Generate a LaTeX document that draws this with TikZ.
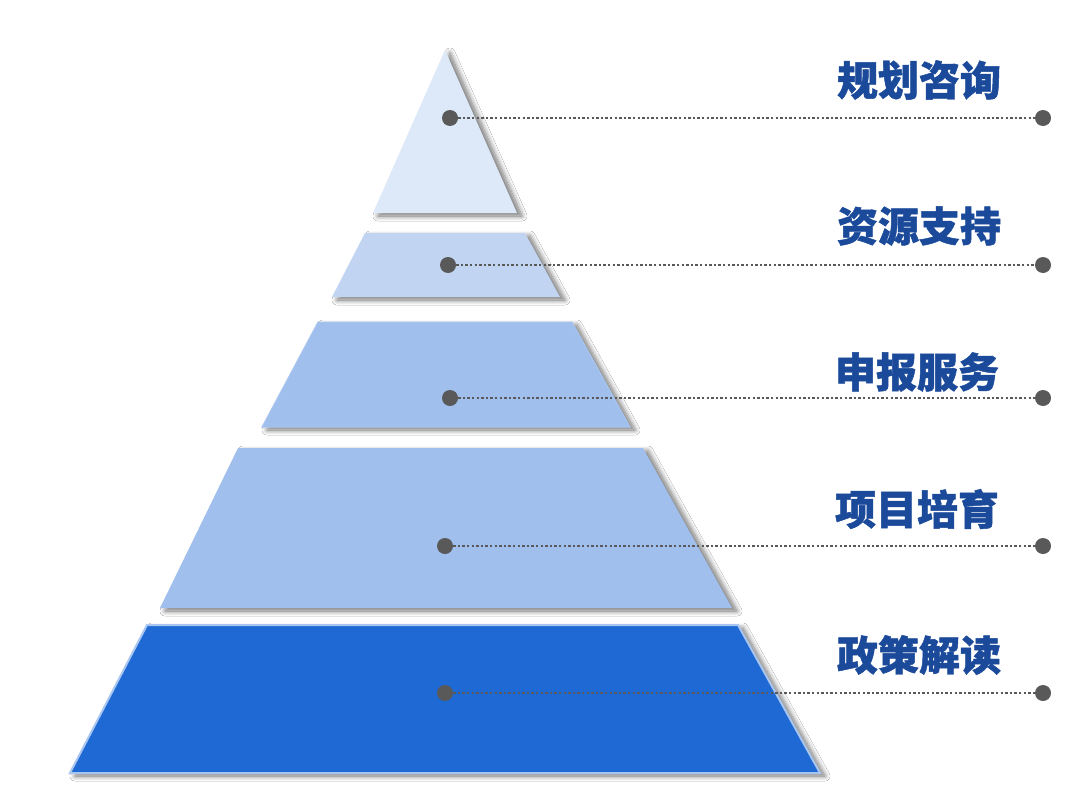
\documentclass[tikz,border=0pt]{standalone}
\usepackage{fontspec}
\newfontfamily\cjk{Noto Sans CJK SC}[BoldFeatures={FakeBold=1.2}]
\usetikzlibrary{shadows.blur}
\definecolor{lay1}{HTML}{DDE8F8}
\definecolor{lay2}{HTML}{C1D5F3}
\definecolor{lay3}{HTML}{A0BFEC}
\definecolor{lay5}{HTML}{1F69D4}
\definecolor{edge}{HTML}{A8C6F0}
\definecolor{dotc}{HTML}{595959}
\definecolor{txtc}{HTML}{1B4A9A}
\tikzset{
  layer/.style={blur shadow={shadow xshift=5pt, shadow yshift=-3pt, shadow blur steps=10, shadow blur radius=5pt, shadow opacity=55}},
  dotnode/.style={circle, fill=dotc, inner sep=0pt, minimum size=16pt},
  link/.style={draw=dotc, line width=2.4pt, dash pattern=on 2.4pt off 2.2pt},
  label/.style={font=\cjk\bfseries\fontsize{41}{41}\selectfont, text=txtc, inner sep=0pt}
}
\begin{document}
\begin{tikzpicture}[x=1pt,y=-1pt]
\useasboundingbox (0,0) rectangle (1068,792);
\fill[white] (0,0) rectangle (1068,792);
% layers
\fill[lay1, layer] (445,50) -- (517,213) -- (373,213) -- cycle;
\fill[lay2, layer] (365,233) -- (525,233) -- (560,297) -- (332,297) -- cycle;
\fill[lay3, layer, draw=edge, line width=1pt] (318,322) -- (572,322) -- (630,427) -- (262,427) -- cycle;
\fill[lay3, layer] (238,448) -- (643,448) -- (732,608) -- (160,608) -- cycle;
\fill[lay5, layer, draw=edge, line width=2pt] (147,625) -- (738,625) -- (820,773) -- (70,773) -- cycle;
% dots
\node[dotnode] (a1) at (450,118) {};
\node[dotnode] (b1) at (1043,118) {};
\node[dotnode] (a2) at (448,265) {};
\node[dotnode] (b2) at (1043,265) {};
\node[dotnode] (a3) at (450,398) {};
\node[dotnode] (b3) at (1043,398) {};
\node[dotnode] (a4) at (445,546) {};
\node[dotnode] (b4) at (1043,546) {};
\node[dotnode] (a5) at (445,693) {};
\node[dotnode] (b5) at (1043,693) {};
\draw[link] (a1) -- (b1);
\draw[link] (a2) -- (b2);
\draw[link] (a3) -- (b3);
\draw[link] (a4) -- (b4);
\draw[link] (a5) -- (b5);
% labels
\node[label] (t1) at (919,80) {规划咨询};
\node[label] (t2) at (919,226) {资源支持};
\node[label] (t3) at (917,372) {申报服务};
\node[label] (t4) at (917,509) {项目培育};
\node[label] (t5) at (919,655) {政策解读};
\end{tikzpicture}
\end{document}
